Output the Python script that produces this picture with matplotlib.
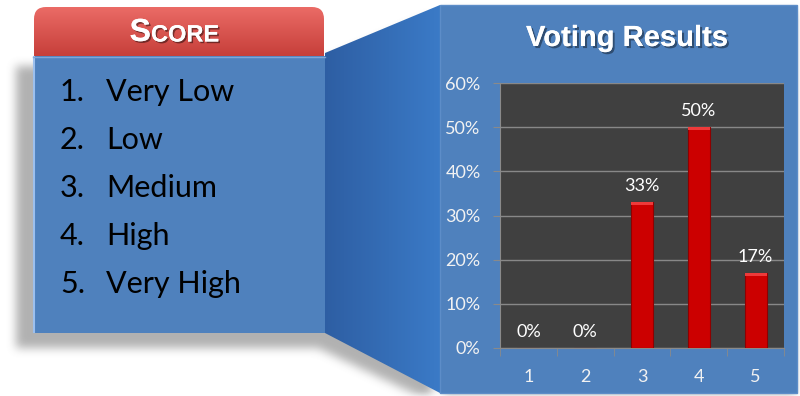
import numpy as np
import matplotlib
matplotlib.use("Agg")
import matplotlib.pyplot as plt
import matplotlib.patheffects as pe
from matplotlib.patches import Rectangle, Polygon, FancyBboxPatch
from matplotlib.path import Path
from matplotlib.ticker import PercentFormatter

# score scale and vote shares
score_items = ["Very Low", "Low", "Medium", "High", "Very High"]
categories = ["1", "2", "3", "4", "5"]
shares = [0.00, 0.00, 0.33, 0.50, 0.17]
y_ticks = [0.0, 0.1, 0.2, 0.3, 0.4, 0.5, 0.6]

W, H = 800, 396
fig = plt.figure(figsize=(W / 100, H / 100), dpi=100)
fig.patch.set_facecolor("white")

bg = fig.add_axes([0, 0, 1, 1])
bg.set_xlim(0, W)
bg.set_ylim(H, 0)
bg.axis("off")

# soft drop shadow behind the shapes
yy, xx = np.mgrid[0:H, 0:W]
pts = np.column_stack([xx.ravel() + 0.5, yy.ravel() + 0.5])
mask = np.zeros(H * W)
for poly in [
    [(16, 66), (318, 66), (318, 348), (16, 348)],
    [(318, 64), (432, 16), (432, 402), (318, 348)],
    [(444, 12), (795, 12), (795, 398), (444, 398)],
]:
    mask = np.maximum(mask, Path(poly).contains_points(pts).astype(float))
mask = mask.reshape(H, W)
k = np.ones(9) / 9
for _ in range(3):
    mask = np.apply_along_axis(lambda r: np.convolve(r, k, mode="same"), 1, mask)
    mask = np.apply_along_axis(lambda c: np.convolve(c, k, mode="same"), 0, mask)
shadow = np.zeros((H, W, 4))
shadow[..., :3] = 0.45
shadow[..., 3] = mask * 0.55
bg.imshow(shadow, extent=(0, W, H, 0), zorder=1, interpolation="bilinear")

# connector between the two panels, with a horizontal gradient
conn = Polygon([(325, 53), (440, 5), (440, 393), (325, 333)], closed=True,
               facecolor="none", edgecolor="none", zorder=2)
bg.add_patch(conn)
grad = np.linspace(0, 1, 256)[None, :]
c0 = np.array([0.18, 0.37, 0.64])
c1 = np.array([0.23, 0.48, 0.78])
gimg = c0 + (c1 - c0) * grad[..., None]
gi = bg.imshow(np.repeat(gimg, 2, axis=0), extent=(325, 440, 393, 5),
               aspect="auto", zorder=2, interpolation="bilinear")
gi.set_clip_path(conn)

# right panel
bg.add_patch(Rectangle((440, 5), 357, 388, facecolor="#4f81bd",
                       edgecolor="#5d8dc8", lw=1, zorder=3))

# red header with rounded top
hdr = FancyBboxPatch((34, 7), 290, 62, boxstyle="round,pad=0,rounding_size=12",
                     facecolor="none", edgecolor="none", zorder=4)
bg.add_patch(hdr)
hg = np.linspace(0, 1, 256)[:, None]
r0 = np.array([0.92, 0.42, 0.40])
r1 = np.array([0.74, 0.20, 0.18])
himg = r0 + (r1 - r0) * hg[..., None]
hi = bg.imshow(np.repeat(himg, 2, axis=1), extent=(34, 324, 69, 7),
               aspect="auto", zorder=4, interpolation="bilinear")
hi.set_clip_path(hdr)

# left blue box
bg.add_patch(Rectangle((33, 56), 292, 277, facecolor="#4f81bd",
                       edgecolor="none", zorder=5))
bg.plot([34, 34], [57, 332], color="#9cc0ee", lw=1.5, zorder=6)
bg.plot([33, 325], [56.5, 56.5], color="#7fa6d8", lw=1, zorder=6)

shadow_fx = [pe.withSimplePatchShadow(offset=(1.2, -1.2), shadow_rgbFace="black", alpha=0.45),
             pe.Normal()]
bg.text(151, 33, "S", fontsize=23, fontweight="bold", color="white",
        family="Liberation Sans", ha="right", va="center", zorder=7,
        path_effects=shadow_fx)
bg.text(151, 35, "CORE", fontsize=17, fontweight="bold", color="white",
        family="Liberation Sans", ha="left", va="center", zorder=7,
        path_effects=shadow_fx)

for i, item in enumerate(score_items):
    y = 92 + i * 48
    bg.text(60, y, f"{i + 1}.", fontsize=22, color="black", family="Lato",
            ha="left", va="center", zorder=7)
    bg.text(106, y, item, fontsize=22, color="black", family="Lato",
            ha="left", va="center", zorder=7)

bg.text(627, 38, "Voting Results", fontsize=21, fontweight="bold", color="white",
        family="Liberation Sans", ha="center", va="center", zorder=7,
        path_effects=[pe.withSimplePatchShadow(offset=(1.5, -1.5), shadow_rgbFace="black", alpha=0.4),
                      pe.Normal()])

# bar chart
ax = fig.add_axes([500 / W, (H - 348) / H, 284 / W, (348 - 83) / H])
ax.set_zorder(10)
ax.set_facecolor("#404040")
x = np.arange(len(categories))
ax.bar(x, shares, width=0.39, color="#cc0000", edgecolor="#8f0000", lw=0.8, zorder=3)
for xi, v in zip(x, shares):
    if v > 0:
        ax.bar(xi, 0.006, bottom=v - 0.006, width=0.39, color="#ee3a3a",
               edgecolor="none", zorder=4)
    ax.annotate(f"{v:.0%}", (xi, v), xytext=(0, 11.5), textcoords="offset points",
                ha="center", va="center", color="white", fontsize=13, family="Lato")

ax.set_xlim(-0.5, len(categories) - 0.5)
ax.set_ylim(0, 0.6)
ax.set_yticks(y_ticks)
ax.yaxis.set_major_formatter(PercentFormatter(1.0, decimals=0))
ax.set_xticks(x)
ax.set_xticklabels(categories)
ax.set_xticks(np.arange(-0.5, len(categories)), minor=True)
ax.grid(axis="y", color="#888888", lw=1, zorder=1)
ax.set_axisbelow(True)
for s in ["top", "right"]:
    ax.spines[s].set_visible(False)
for s in ["left", "bottom"]:
    ax.spines[s].set_color("#8a8a8a")
ax.tick_params(axis="y", colors="#8a8a8a", labelcolor="#f2f2f2", labelsize=13,
               length=5, pad=9)
ax.tick_params(axis="x", which="major", length=0, labelcolor="#f2f2f2", labelsize=13, pad=15)
ax.tick_params(axis="x", which="minor", length=6, color="#8a8a8a")
for lbl in ax.get_xticklabels() + ax.get_yticklabels():
    lbl.set_family("Lato")

fig.savefig("out.png", dpi=100)
